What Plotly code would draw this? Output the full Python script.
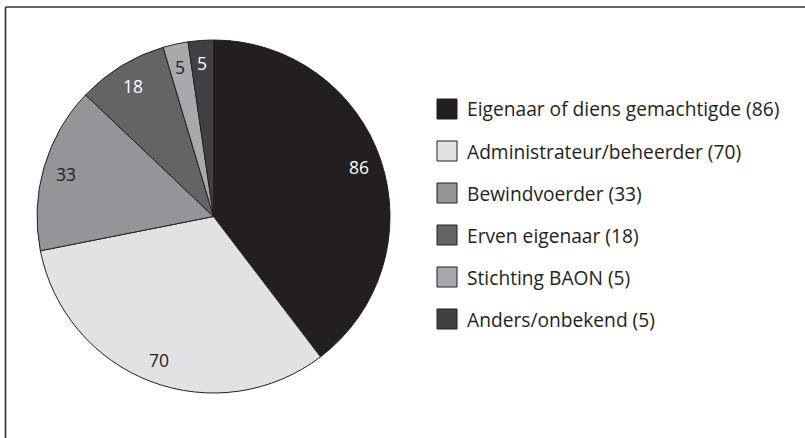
import math
import plotly.graph_objects as go

labels = ["Eigenaar of diens gemachtigde", "Administrateur/beheerder", "Bewindvoerder",
          "Erven eigenaar", "Stichting BAON", "Anders/onbekend"]
values = [86, 70, 33, 18, 5, 5]
colors = ["#231f20", "#e1e2e4", "#939598", "#636466", "#a7a9ac", "#414042"]
text_colors = ["white", "#231f20", "#231f20", "white", "#231f20", "white"]

W, H = 805, 438
FONT = "Open Sans"
cx, cy, R = 213.5, 216.5, 176.5  # pie centre (px from top-left) and radius

fig = go.Figure()
fig.add_trace(go.Pie(
    labels=labels, values=values, sort=False, direction="clockwise", rotation=0,
    marker=dict(colors=colors, line=dict(color="#231f20", width=1)),
    textinfo="none", hoverinfo="label+value", showlegend=False,
    domain=dict(x=[(cx - R) / W, (cx + R) / W], y=[(H - cy - R) / H, (H - cy + R) / H]),
))

annotations = []
total = sum(values)
cum = 0
for v, tc in zip(values, text_colors):
    mid = (cum + v / 2) / total * 2 * math.pi
    cum += v
    r = 0.87 * R
    px = cx + r * math.sin(mid)
    py = cy - r * math.cos(mid)
    annotations.append(dict(x=px / W, y=1 - py / H, xref="paper", yref="paper",
                            xanchor="center", yanchor="middle",
                            text=str(v), showarrow=False,
                            font=dict(family=FONT, size=17.5, color=tc)))

shapes = []
# frame (top and left edges)
shapes.append(dict(type="line", xref="paper", yref="paper", x0=5.5 / W, x1=1, y0=1 - 7 / H, y1=1 - 7 / H,
                   line=dict(color="#333333", width=1.6)))
shapes.append(dict(type="line", xref="paper", yref="paper", x0=5.5 / W, x1=5.5 / W, y0=0, y1=1 - 7 / H,
                   line=dict(color="#333333", width=1.6)))

# legend
ly0, lstep = 109, 42
for i, (lab, v, c) in enumerate(zip(labels, values, colors)):
    yc = ly0 + i * lstep
    shapes.append(dict(type="rect", xref="paper", yref="paper",
                       x0=437 / W, x1=457 / W, y0=1 - (yc - 10) / H, y1=1 - (yc + 10) / H,
                       fillcolor=c, line=dict(color="#231f20", width=1)))
    annotations.append(dict(x=465 / W, y=1 - yc / H, xref="paper", yref="paper",
                            xanchor="left", yanchor="middle", showarrow=False,
                            text=f"{lab} ({v})",
                            font=dict(family=FONT, size=19.2, color="#231f20")))

fig.update_layout(width=W, height=H, margin=dict(l=0, r=0, t=0, b=0),
                  paper_bgcolor="white", plot_bgcolor="white",
                  shapes=shapes, annotations=annotations)
fig.write_html("out.html", config={"displayModeBar": False},
               post_script="document.body.style.margin='0';")
